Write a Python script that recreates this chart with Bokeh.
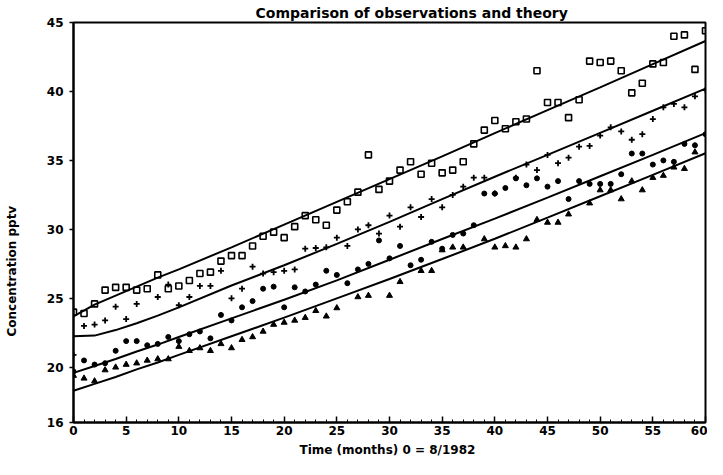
import numpy as np
from bokeh.plotting import figure
from bokeh.models import Range1d, FixedTicker, Title
from bokeh.embed import file_html
from bokeh.resources import INLINE

nan = float("nan")

months = list(range(61))

squares = [24.0, 23.9, 24.6, 25.6, 25.8, 25.8, 25.6, 25.7, 26.7, 25.7,
           25.9, 26.3, 26.8, 26.9, 27.7, 28.1, 28.1, 28.8, 29.5, 29.8,
           29.4, 30.2, 31.0, 30.7, 30.3, 31.4, 32.0, 32.7, 35.4, 32.9,
           33.5, 34.3, 34.9, 34.0, 34.8, 34.1, 34.3, 34.9, 36.2, 37.2,
           37.9, 37.3, 37.8, 38.0, 41.5, 39.2, 39.2, 38.1, 39.4, 42.2,
           42.1, 42.2, 41.5, 39.9, 40.6, 42.0, 42.1, 44.0, 44.1, 41.6,
           44.4]

pluses = [20.9, 23.0, 23.1, 23.4, 24.4, 23.5, 24.6, nan, 25.1, 26.0,
          24.5, 25.1, 25.9, 25.9, 27.0, 25.0, 25.7, 27.3, 26.8, 26.9,
          27.0, 27.1, 28.6, 28.65, 28.7, 29.4, 28.8, 30.0, 30.3, 29.7,
          31.0, 30.2, 31.6, 30.9, 32.2, 31.6, 32.5, 33.1, 33.75, 33.75,
          32.6, nan, 33.75, 34.7, 34.3, 35.4, 34.8, 35.2, 36.0, 36.05,
          36.8, 37.4, 37.1, 36.5, 36.9, 38.0, 38.85, 39.1, 38.85, 39.65,
          40.1]

circles = [19.7, 20.5, 20.2, 20.3, 21.2, 21.9, 21.9, 21.6, 21.7, 22.2,
           21.9, 22.4, 22.6, 22.1, 23.8, 23.4, 24.35, 24.8, 25.7, 25.85,
           24.35, 25.8, 25.5, 26.0, 27.0, 26.7, 26.1, 27.1, 27.5, 29.2,
           27.9, 28.8, 27.4, 27.8, 29.1, 28.6, 29.6, 29.7, 30.3, 32.6,
           32.6, 33.0, 33.7, 33.2, 33.7, 33.1, 33.5, 32.2, 33.5, 33.3,
           33.3, 33.3, 34.0, 35.5, 35.5, 34.7, 35.0, 34.9, 36.2, 36.1,
           36.9]

triangles = [19.4, 19.2, 19.0, 19.8, 20.0, 20.2, 20.3, 20.5, 20.6, 20.6,
             21.5, 21.2, 21.4, 21.2, 21.7, 21.4, 22.0, 22.2, 22.6, 23.1,
             23.25, 23.4, 23.6, 24.1, 23.7, 24.3, nan, 25.1, 25.2, nan,
             25.2, 26.2, nan, 27.0, 27.0, 28.5, 28.7, 28.7, nan, 29.3,
             28.7, 28.8, 28.7, 29.3, 30.7, 30.5, 30.5, 31.1, nan, 31.9,
             32.85, 32.85, 32.2, 33.5, 32.85, 33.75, 33.9, 34.5, 34.4, 35.6,
             nan]

theory_months = [0, 2, 4, 6, 8, 10, 15, 20, 25, 30, 35, 40, 45, 50, 55, 60]
theory_1 = [23.7, 24.55, 25.2, 25.85, 26.5, 27.1, 28.7, 30.35, 32.0, 33.65,
            35.3, 36.98, 38.65, 40.3, 41.98, 43.66]
theory_2 = [22.25, 22.3, 22.7, 23.2, 23.75, 24.35, 25.93, 27.4, 28.95, 30.55,
            32.2, 33.82, 35.4, 37.0, 38.6, 40.21]
theory_3 = [19.6, 20.1, 20.6, 21.15, 21.65, 22.2, 23.55, 24.9, 26.3, 27.8,
            29.3, 30.78, 32.3, 33.85, 35.4, 36.98]
theory_4 = [18.3, 18.8, 19.3, 19.85, 20.35, 20.9, 22.25, 23.6, 25.0, 26.4,
            27.85, 29.32, 30.85, 32.4, 33.95, 35.52]

x_ticks = list(range(0, 61, 5))
y_ticks = [16, 20, 25, 30, 35, 40, 45]

title_text = "Comparison of observations and theory"
x_label_text = "Time (months)  0 = 8/1982"
y_label_text = "Concentration pptv"

FONT = "DejaVu Sans"

p = figure(width=707, height=459, output_backend="svg", toolbar_location=None,
           x_range=Range1d(0, 60), y_range=Range1d(16, 45),
           min_border_left=70, min_border_right=2, min_border_top=22,
           min_border_bottom=37, title=title_text)

p.title.align = "left"
p.title.offset = 182
p.title.text_font = FONT
p.title.text_font_size = "14px"
p.title.text_font_style = "bold"
p.title.text_color = "black"
p.title.standoff = 3

p.xgrid.visible = False
p.ygrid.visible = False
p.outline_line_color = "black"
p.outline_line_width = 2
p.outline_line_alpha = 1.0

for ax in (p.xaxis[0], p.yaxis[0]):
    ax.axis_line_width = 2
    ax.axis_line_color = "black"
    ax.major_tick_line_color = "black"
    ax.major_tick_line_width = 1.5
    ax.major_label_text_font = FONT
    ax.major_label_text_font_size = "12px"
    ax.major_label_text_font_style = "bold"
    ax.major_label_text_color = "black"
    ax.axis_label_text_font = FONT
    ax.axis_label_text_font_size = "12px"
    ax.axis_label_text_font_style = "bold"
    ax.axis_label_text_color = "black"

p.xaxis.ticker = FixedTicker(ticks=x_ticks, minor_ticks=months)
p.xaxis.major_tick_in = 6
p.xaxis.major_tick_out = 0
p.xaxis.minor_tick_in = 3
p.xaxis.minor_tick_out = 0
p.xaxis.minor_tick_line_color = "black"
p.xaxis.major_label_standoff = 3
p.xaxis.axis_label = x_label_text
p.xaxis.axis_label_standoff = 5

p.yaxis.ticker = FixedTicker(ticks=y_ticks, minor_ticks=[])
p.yaxis.major_tick_in = 0
p.yaxis.major_tick_out = 4
p.yaxis.minor_tick_line_color = None
p.yaxis.major_label_standoff = 6
# a blank axis label acts only as a spacer before the y title
p.yaxis.axis_label = " "
p.yaxis.axis_label_standoff = 6

ytitle = Title(text=y_label_text, align="left", offset=86,
               text_font=FONT, text_font_size="12px", text_font_style="bold",
               text_color="black", standoff=4)
p.add_layout(ytitle, "left")

for vals in (theory_1, theory_2, theory_3, theory_4):
    p.line(theory_months, vals, line_color="black", line_width=2)

x = np.array(months, dtype=float)
p.scatter(x, np.array(squares), marker="square", size=6, fill_color=None,
          line_color="black", line_width=1.6)
p.scatter(x, np.array(pluses), marker="cross", size=6, line_color="black",
          line_width=1.8)
p.scatter(x, np.array(circles), marker="circle", size=5, fill_color="black",
          line_color="black")
p.scatter(x, np.array(triangles), marker="triangle", size=6, fill_color="black",
          line_color="black")

open("out.html", "w").write(file_html(p, INLINE))
